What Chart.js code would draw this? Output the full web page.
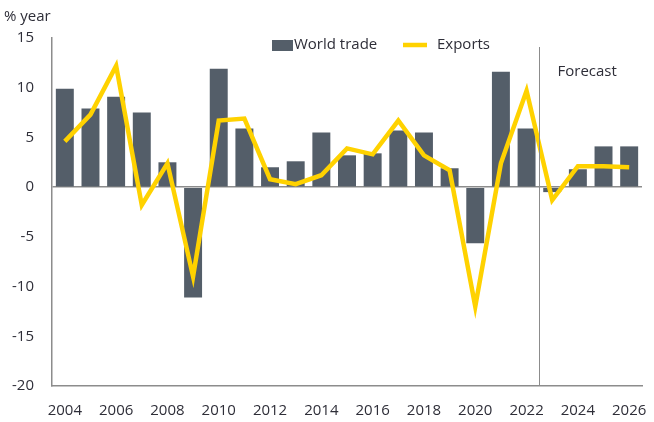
<!DOCTYPE html>
<html><head><meta charset="utf-8">
<script src="https://cdn.jsdelivr.net/npm/chart.js@4.4.1/dist/chart.umd.min.js"></script>
<style>html,body{margin:0;padding:0;background:#fff}#wrap{width:654px;height:422px;position:relative}</style>
</head><body><div id="wrap"><canvas id="c" width="654" height="422"></canvas></div>
<script>
const years = ["2004","2005","2006","2007","2008","2009","2010","2011","2012","2013","2014","2015","2016","2017","2018","2019","2020","2021","2022","2023","2024","2025","2026"];
const worldTrade = [9.9,7.9,9.1,7.5,2.5,-11.1,11.9,5.9,2.0,2.6,5.5,3.2,3.4,5.7,5.5,1.9,-5.65,11.6,5.9,-0.5,1.8,4.1,4.1];
const exportsSeries = [4.6,7.3,12.2,-1.8,2.4,-9.0,6.7,6.9,0.8,0.3,1.2,3.9,3.3,6.7,3.2,1.7,-12.0,2.4,9.7,-1.3,2.1,2.1,2.0];
const yTicks = [-20,-15,-10,-5,0,5,10,15];
const forecastStartIndex = 19;
const labels = {unit:"% year", forecast:"Forecast", bar:"World trade", line:"Exports"};

const TXT = "#2e2e38", BAR = "#545e69", YEL = "#ffd200", AX = "#8c8c8c";
const FONT = "'Open Sans', sans-serif";

const overlay = {
  id:'overlay',
  afterDraw(chart){
    const ctx = chart.ctx, xs = chart.scales.x, a = chart.chartArea;
    ctx.save();
    const fx = Math.round((xs.getPixelForValue(forecastStartIndex-1)+xs.getPixelForValue(forecastStartIndex))/2)+0.5;
    ctx.strokeStyle = AX; ctx.lineWidth = 1;
    ctx.beginPath(); ctx.moveTo(fx, 47); ctx.lineTo(fx, a.bottom); ctx.stroke();
    ctx.fillStyle = TXT; ctx.font = "15px " + FONT; ctx.textBaseline = "middle";
    ctx.textAlign = "left";
    ctx.fillText(labels.forecast, fx + 18, 72);
    ctx.fillText(labels.unit, 4, 17);
    ctx.fillStyle = BAR; ctx.fillRect(272, 40, 21, 11);
    ctx.fillStyle = TXT; ctx.fillText(labels.bar, 294, 45);
    ctx.strokeStyle = YEL; ctx.lineWidth = 4.5;
    ctx.beginPath(); ctx.moveTo(403, 45); ctx.lineTo(427, 45); ctx.stroke();
    ctx.fillText(labels.line, 437, 45);
    ctx.restore();
  }
};

new Chart(document.getElementById('c'), {
  data: {
    labels: years,
    datasets: [
      {type:'line', label:labels.line, data:exportsSeries, borderColor:YEL, borderWidth:4.5, pointRadius:0, tension:0, order:0, borderJoinStyle:'miter'},
      {type:'bar', label:labels.bar, data:worldTrade, backgroundColor:BAR, barPercentage:0.7, categoryPercentage:1.0, order:1}
    ]
  },
  options: {
    responsive:false, animation:false, devicePixelRatio:1,
    layout:{padding:{top:38, right:12, left:0, bottom:0}},
    plugins:{legend:{display:false}, tooltip:{enabled:false}},
    scales:{
      x:{
        offset:true,
        grid:{display:false, drawTicks:false},
        border:{display:true, color:AX, width:1.5},
        ticks:{color:TXT, font:{family:FONT, size:15}, autoSkip:false, maxRotation:0, padding:16,
          callback:function(v,i){ return i%2===0 ? this.getLabelForValue(v) : ''; }},
        afterFit:s=>{ s.height = 36; s.paddingLeft = 0; s.paddingRight = 0; }
      },
      y:{
        min:-20, max:15,
        afterBuildTicks:s=>{ s.ticks = yTicks.map(v=>({value:v})); },
        grid:{drawTicks:false, color:c=> c.tick && c.tick.value===0 ? AX : 'rgba(0,0,0,0)', lineWidth:1.5},
        border:{display:true, color:AX, width:1.5},
        ticks:{color:TXT, font:{family:FONT, size:15}, padding:18},
        afterFit:s=>{ s.width = 52; s.paddingTop = 0; s.paddingBottom = 0; }
      }
    }
  },
  plugins:[overlay]
});
</script></body></html>
